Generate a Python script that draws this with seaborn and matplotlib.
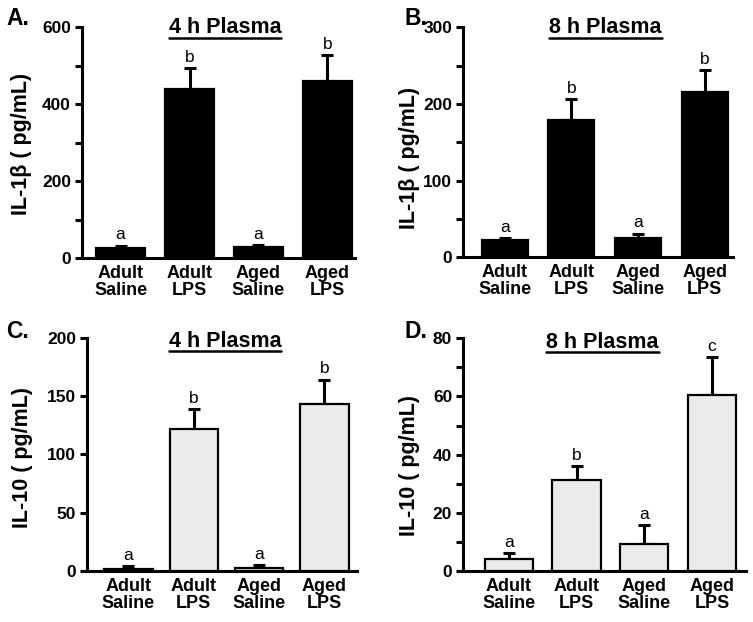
import numpy as np
import pandas as pd
import matplotlib
matplotlib.use("Agg")
import matplotlib.pyplot as plt
import seaborn as sns
from matplotlib.ticker import MultipleLocator
from matplotlib.lines import Line2D

# ---------------- data ----------------
groups = ["Adult\nSaline", "Adult\nLPS", "Aged\nSaline", "Aged\nLPS"]

il1b_4h_mean = [26, 440, 28, 460]
il1b_4h_sem = [6, 53, 6, 67]
il1b_4h_letters = ["a", "b", "a", "b"]

il1b_8h_mean = [22, 179, 25, 215]
il1b_8h_sem = [3, 27, 6, 29]
il1b_8h_letters = ["a", "b", "a", "b"]

il10_4h_mean = [2, 122, 2.3, 143]
il10_4h_sem = [2.3, 17, 2.8, 21]
il10_4h_letters = ["a", "b", "a", "b"]

il10_8h_mean = [4.0, 31.3, 9.4, 60.4]
il10_8h_sem = [2.1, 4.8, 6.3, 13.2]
il10_8h_letters = ["a", "b", "a", "c"]

panel_labels = ["A.", "B.", "C.", "D."]
titles = ["4 h Plasma", "8 h Plasma", "4 h Plasma", "8 h Plasma"]
ylabels = ["IL-1β ( pg/mL)", "IL-1β ( pg/mL)", "IL-10 ( pg/mL)", "IL-10 ( pg/mL)"]

# ---------------- style ----------------
sns.set_style("ticks")
plt.rcParams["font.family"] = ["Liberation Sans", "DejaVu Sans"]
plt.rcParams["font.weight"] = "bold"
for k in ["text.color", "axes.labelcolor", "xtick.color", "ytick.color",
          "axes.edgecolor"]:
    plt.rcParams[k] = "black"

W, H = 753, 622
fig = plt.figure(figsize=(W / 100, H / 100), dpi=100)
fig.patch.set_facecolor("white")

def fx(x):
    return x / W

def fy(y):
    return 1 - y / H

# layout: (left, top, right, bottom) in pixels
rects = [(82, 27, 355, 258), (463.3, 27.3, 732.7, 257.3),
         (87.3, 337.7, 357, 571), (463.3, 338.3, 746, 571)]
xlims = [(-0.56, 3.40), (-0.62, 3.42), (-0.63, 3.5), (-0.67, 3.5)]
widths = [0.71, 0.69, 0.74, 0.71]
ylims = [600, 300, 200, 80]
majors = [200, 100, 50, 20]
minors = [100, 50, None, 10]
colors = ["black", "black", "#ebebeb", "#ebebeb"]
label_pos = [(6, 25), (405, 25), (6, 338), (405, 338)]
title_pos = [(225, 33.3), (605.7, 33.3), (225, 347), (602.7, 347.7)]
ylabel_pos = [(22, 144), (410, 158), (22.5, 457), (409.5, 466)]

means = [il1b_4h_mean, il1b_8h_mean, il10_4h_mean, il10_8h_mean]
sems = [il1b_4h_sem, il1b_8h_sem, il10_4h_sem, il10_8h_sem]
letters = [il1b_4h_letters, il1b_8h_letters, il10_4h_letters, il10_8h_letters]

title_texts = []
for i in range(4):
    l, t, r, b = rects[i]
    ax = fig.add_axes([fx(l), fy(b), fx(r) - fx(l), (b - t) / H])
    df = pd.DataFrame({"group": groups, "value": means[i]})
    sns.barplot(data=df, x="group", y="value", color=colors[i], saturation=1,
                edgecolor="black", linewidth=1.6, width=widths[i],
                errorbar=None, ax=ax, zorder=3)
    ax.errorbar(np.arange(4), means[i], yerr=[np.zeros(4), sems[i]], fmt="none",
                ecolor="black", elinewidth=2.2, capsize=4.3, capthick=2.2, zorder=2)
    for j in range(4):
        ax.annotate(letters[i][j], xy=(j, means[i][j] + sems[i][j]),
                    xytext=(0, 4.5), textcoords="offset points", color="black",
                    ha="center", va="baseline", fontsize=12.5, fontweight="normal")
    ax.set_xlim(*xlims[i])
    ax.set_ylim(0, ylims[i])
    ax.yaxis.set_major_locator(MultipleLocator(majors[i]))
    if minors[i]:
        ax.yaxis.set_minor_locator(MultipleLocator(minors[i]))
    ax.set_xlabel("")
    ax.set_ylabel("")
    ax.set_facecolor("white")
    for s in ["top", "right"]:
        ax.spines[s].set_visible(False)
    for s in ["left", "bottom"]:
        ax.spines[s].set_linewidth(2.2)
        ax.spines[s].set_color("black")
    ax.tick_params(axis="y", which="both", direction="out", length=5, width=2.2,
                   pad=3, labelsize=12.5, colors="black")
    ax.tick_params(axis="x", length=0, pad=5, labelsize=13, colors="black")
    for lab in ax.get_xticklabels():
        lab.set_fontweight("bold")
        lab.set_linespacing(1.0)
    for lab in ax.get_yticklabels():
        lab.set_fontweight("bold")

    fig.text(fx(label_pos[i][0]), fy(label_pos[i][1]), panel_labels[i],
             fontsize=16.5, fontweight="bold", ha="left", va="baseline")
    tt = fig.text(fx(title_pos[i][0]), fy(title_pos[i][1]), titles[i],
                  fontsize=15.5, fontweight="bold", ha="center", va="baseline")
    title_texts.append((tt, title_pos[i][1]))
    fig.text(fx(ylabel_pos[i][0]), fy(ylabel_pos[i][1]), ylabels[i],
             fontsize=15.5, fontweight="bold", rotation=90,
             ha="center", va="center")

fig.canvas.draw()
for tt, base in title_texts:
    bb = tt.get_window_extent()
    yline = fy(base + 4.2)
    fig.add_artist(Line2D([bb.x0 / W, bb.x1 / W], [yline, yline],
                          color="black", linewidth=1.8,
                          transform=fig.transFigure))

fig.savefig("out.png", dpi=100, facecolor="white")
